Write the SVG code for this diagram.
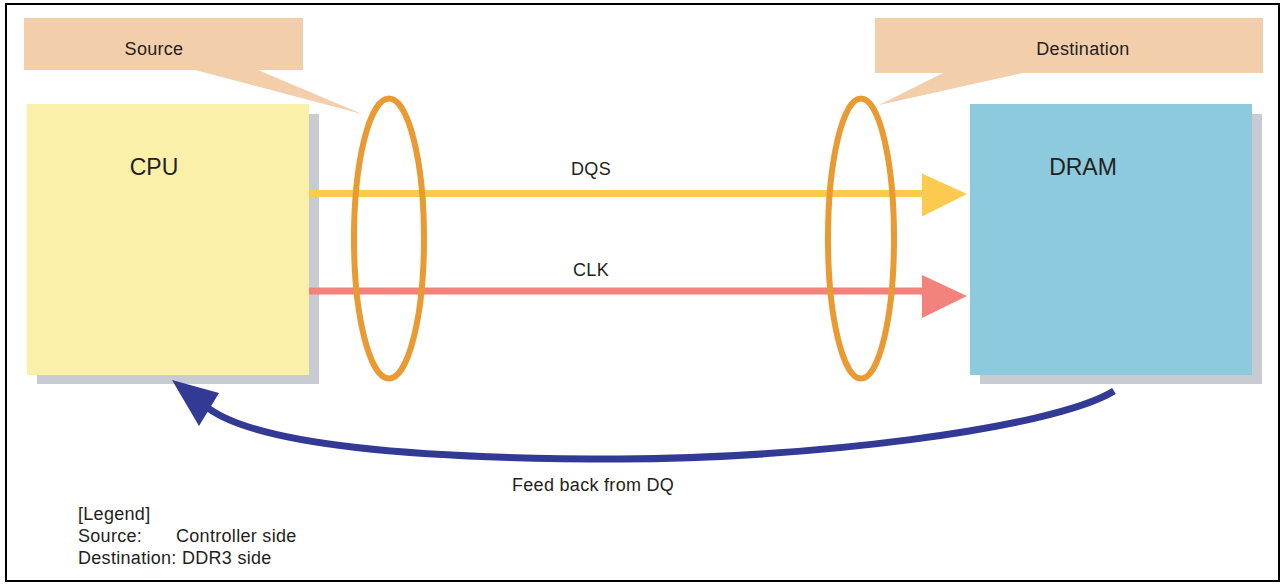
<svg xmlns="http://www.w3.org/2000/svg" width="1282" height="584" viewBox="0 0 1282 584">
<style>
text{font-family:"Liberation Sans",Arial,sans-serif;fill:#231F20}
.lbl{font-size:18px;letter-spacing:0.3px}
.big{font-size:23px}
.callout{fill:#F2CEAA}
.shadow{fill:#C9CBD3}
.ring{fill:none;stroke:#E99A33;stroke-width:6}
</style>
<rect x="6" y="4" width="1273" height="577" fill="#fff" stroke="#000" stroke-width="2"/>
<g id="source-callout">
<rect class="callout" x="24" y="18" width="279" height="52"/>
<polygon class="callout" points="195,70 258,70 362,114"/>
<text class="lbl" x="154" y="55" text-anchor="middle">Source</text>
</g>
<g id="destination-callout">
<rect class="callout" x="875" y="18" width="388" height="55"/>
<polygon class="callout" points="943,73 1023,73 879,105"/>
<text class="lbl" x="1083" y="55" text-anchor="middle">Destination</text>
</g>
<g id="cpu">
<rect class="shadow" x="37" y="114" width="282" height="270"/>
<rect x="27" y="104" width="282" height="271" fill="#FAF0AA"/>
<text class="big" x="154" y="175" text-anchor="middle">CPU</text>
</g>
<g id="dram">
<rect class="shadow" x="980" y="114" width="282" height="270"/>
<rect x="970" y="104" width="282" height="271" fill="#8DCADE"/>
<text class="big" x="1083" y="175" text-anchor="middle">DRAM</text>
</g>
<g id="connectors">
<line x1="309" y1="193.5" x2="924" y2="193.5" stroke="#FCCA4F" stroke-width="7"/>
<polygon points="922,173.5 967,194 922,216.5" fill="#FCCA4F"/>
<line x1="309" y1="291" x2="924" y2="291" stroke="#F4827C" stroke-width="7"/>
<polygon points="922,275 967,296 922,318" fill="#F4827C"/>
<path d="M1114,391 C1050,430 800,459 620,459 C450,459 265,450 208,408" fill="none" stroke="#333A96" stroke-width="7"/>
<polygon points="172,380 199,426 219,393" fill="#333A96"/>
</g>
<g id="ring-source"><ellipse class="ring" cx="389" cy="238.5" rx="35" ry="140"/></g>
<g id="ring-destination"><ellipse class="ring" cx="861" cy="238.5" rx="33" ry="140"/></g>
<g id="labels">
<text class="lbl" x="591" y="175" text-anchor="middle">DQS</text>
<text class="lbl" x="591" y="276" text-anchor="middle">CLK</text>
<text class="lbl" x="512" y="491">Feed back from DQ</text>
</g>
<g id="legend">
<text class="lbl" x="78" y="520">[Legend]</text>
<text class="lbl" x="78" y="542">Source:</text>
<text class="lbl" x="176" y="542">Controller side</text>
<text class="lbl" x="78" y="564">Destination: DDR3 side</text>
</g>
</svg>
